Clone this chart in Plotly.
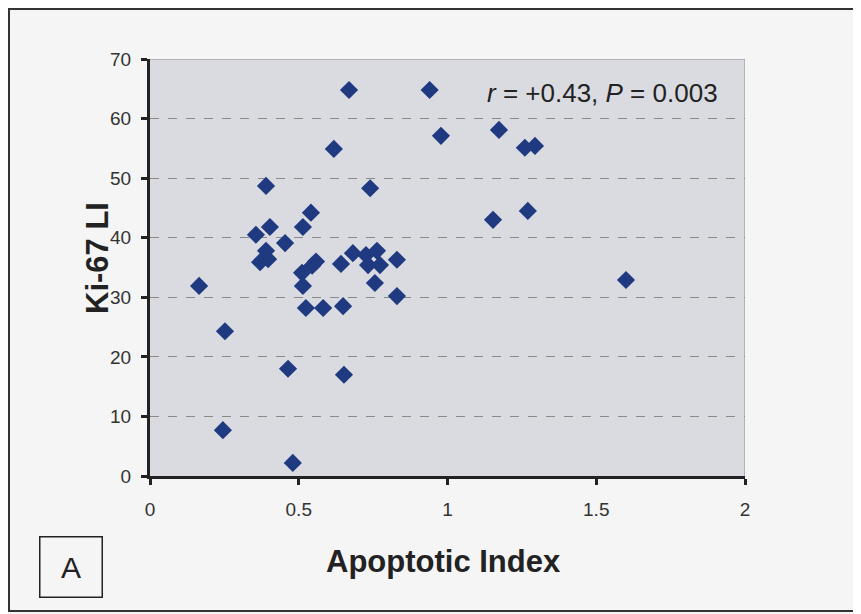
import plotly.graph_objects as go

apoptotic_index = [0.165, 0.252, 0.245, 0.48, 0.464, 0.652, 0.669, 0.94, 0.618, 0.978,
                   1.173, 1.26, 1.294, 1.153, 1.27, 1.6, 0.39, 0.74, 0.403, 0.356,
                   0.454, 0.541, 0.514, 0.39, 0.37, 0.397, 0.558, 0.545, 0.642, 0.682,
                   0.726, 0.763, 0.733, 0.773, 0.83, 0.756, 0.83, 0.511, 0.514, 0.524,
                   0.582, 0.649]
ki67_li = [31.9, 24.3, 7.7, 2.2, 18.0, 17.0, 64.8, 64.8, 54.9, 57.1,
           58.1, 55.1, 55.4, 43.0, 44.5, 32.9, 48.7, 48.3, 41.8, 40.5,
           39.1, 44.2, 41.8, 37.8, 35.9, 36.4, 36.0, 35.3, 35.6, 37.4,
           37.1, 37.8, 35.4, 35.4, 36.3, 32.4, 30.2, 34.1, 31.9, 28.2,
           28.2, 28.5]

x_ticks = [0, 0.5, 1, 1.5, 2]
x_tick_labels = ["0", "0.5", "1", "1.5", "2"]
y_ticks = [0, 10, 20, 30, 40, 50, 60, 70]
y_tick_labels = ["0", "10", "20", "30", "40", "50", "60", "70"]

W, H = 853, 606
L, R, T, B = 142, 116, 51, 138
PW, PH = W - L - R, H - T - B


def px(fx):
    return (fx - L) / PW


def py(fy):
    return (H - B - fy) / PH


fig = go.Figure()
fig.add_trace(go.Scatter(
    x=apoptotic_index, y=ki67_li, mode="markers",
    marker=dict(symbol="diamond", size=14, color="#1f3a80", line=dict(width=0)),
    showlegend=False, hoverinfo="x+y"))

fig.update_layout(
    width=W, height=H,
    margin=dict(l=L, r=R, t=T, b=B),
    paper_bgcolor="#f5f5f5",
    plot_bgcolor="#dadbe0",
    font=dict(family="Arial, Liberation Sans, sans-serif", color="#222222"),
    xaxis=dict(range=[0, 2], tickvals=x_ticks, ticktext=x_tick_labels,
               showgrid=False, zeroline=False,
               showline=True, linecolor="#222222", linewidth=3,
               ticks="outside", ticklen=6, tickwidth=3, tickcolor="#222222",
               ticklabelstandoff=8,
               tickfont=dict(size=19, color="#333333")),
    yaxis=dict(range=[0, 70], tickvals=y_ticks, ticktext=y_tick_labels,
               showgrid=True, gridcolor="#8a8a8a", griddash="dash", gridwidth=1,
               zeroline=False,
               showline=True, linecolor="#222222", linewidth=3,
               ticks="outside", ticklen=6, tickwidth=3, tickcolor="#222222",
               ticklabelstandoff=6,
               tickfont=dict(size=19, color="#333333")),
)

# thin top/right frame of plot area
fig.add_shape(type="line", xref="x", yref="y", x0=0, x1=2, y0=70, y1=70,
              line=dict(color="#8a8a8a", width=1))
fig.add_shape(type="line", xref="x", yref="y", x0=2, x1=2, y0=0, y1=70,
              line=dict(color="#8a8a8a", width=1))

# axis titles
fig.add_annotation(xref="paper", yref="paper", x=px(435), y=py(553),
                   xanchor="center", yanchor="middle", showarrow=False,
                   text="<b>Apoptotic Index</b>", font=dict(size=31, color="#222222"))
fig.add_annotation(xref="paper", yref="paper", x=px(89), y=py(250),
                   xanchor="center", yanchor="middle", showarrow=False, textangle=-90,
                   text="<b>Ki-67 LI</b>", font=dict(size=31, color="#222222"))

fig.add_annotation(xref="x", yref="y", x=1.916, y=64.3, xanchor="right", yanchor="middle",
                   text="<i>r</i> = +0.43, <i>P</i> = 0.003", showarrow=False,
                   font=dict(size=26, color="#222222"))

# panel label box "A"
fig.add_annotation(xref="paper", yref="paper", x=px(62.5), y=py(558.5),
                   xanchor="center", yanchor="middle", text="A", showarrow=False,
                   font=dict(size=30, color="#222222"),
                   bordercolor="#222222", borderwidth=1.5, borderpad=0, width=61, height=59,
                   bgcolor="#f5f5f5")

# outer frame
fig.add_shape(type="rect", xref="paper", yref="paper",
              x0=px(1), x1=px(870), y0=py(603), y1=py(1),
              line=dict(color="#333333", width=2))

fig.write_html("out.html")
